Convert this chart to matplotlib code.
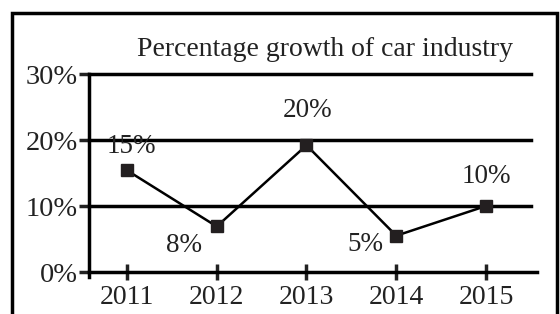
import matplotlib
matplotlib.use("Agg")
import matplotlib.pyplot as plt
from matplotlib.patches import Rectangle

years = [2011, 2012, 2013, 2014, 2015]
growth = [15.4, 6.9, 19.2, 5.5, 10.0]   # positions as drawn
labels = ["15%", "8%", "20%", "5%", "10%"]
label_offsets = [(4, 24), (-33, -19), (1, 35), (-31, -9), (0, 30)]  # px offsets
yticks = [0, 10, 20, 30]
ytick_labels = ["0%", "10%", "20%", "30%"]

plt.rcParams["font.family"] = ["Liberation Serif", "DejaVu Serif"]

fig = plt.figure(figsize=(5.6, 3.14), dpi=100)
ax = fig.add_axes([89 / 560, 42 / 314, 448 / 560, 198 / 314])

# outer frame
fig.patches.append(Rectangle((12 / 560, -0.1), 545 / 560, 1.1 - 13 / 314,
                             transform=fig.transFigure, fill=False,
                             edgecolor="black", linewidth=2.5))

ax.set_xlim(2010.577, 2015.568)
ax.set_ylim(0, 30)

for y in yticks[1:]:
    ax.axhline(y, xmin=0, xmax=442 / 448, color="black", linewidth=2.5,
               clip_on=False, zorder=1)

ax.plot(years, growth, color="black", linewidth=1.8, marker="s",
        markersize=9.3, markerfacecolor="#231f20", markeredgecolor="#231f20",
        zorder=3)

for x, y, t, (dx, dy) in zip(years, growth, labels, label_offsets):
    ax.annotate(t, (x, y), xytext=(dx * 0.72, dy * 0.72),
                textcoords="offset points", ha="center", va="center",
                fontsize=19.5, color="#222222")

for s in ["top", "right"]:
    ax.spines[s].set_visible(False)
ax.spines["left"].set_linewidth(2.5)
ax.spines["bottom"].set_linewidth(2.5)
ax.spines["left"].set_bounds(-0.8, 30)

ax.set_yticks(yticks)
ax.set_yticklabels(ytick_labels)
ax.set_xticks(years)
ax.set_xticklabels([str(y) for y in years])
ax.tick_params(axis="y", direction="out", length=7, width=2.5, pad=1,
               labelsize=20.5, colors="#222222")
ax.tick_params(axis="x", direction="inout", length=12, width=2.5, pad=3,
               labelsize=20, colors="#222222")
for t in ax.get_yticklines() + ax.get_xticklines():
    t.set_color("black")

fig.text(325 / 560, 1 - 50 / 314, "Percentage growth of car industry",
         ha="center", va="center", fontsize=20, color="#222222")

fig.savefig("out.png", dpi=100)
